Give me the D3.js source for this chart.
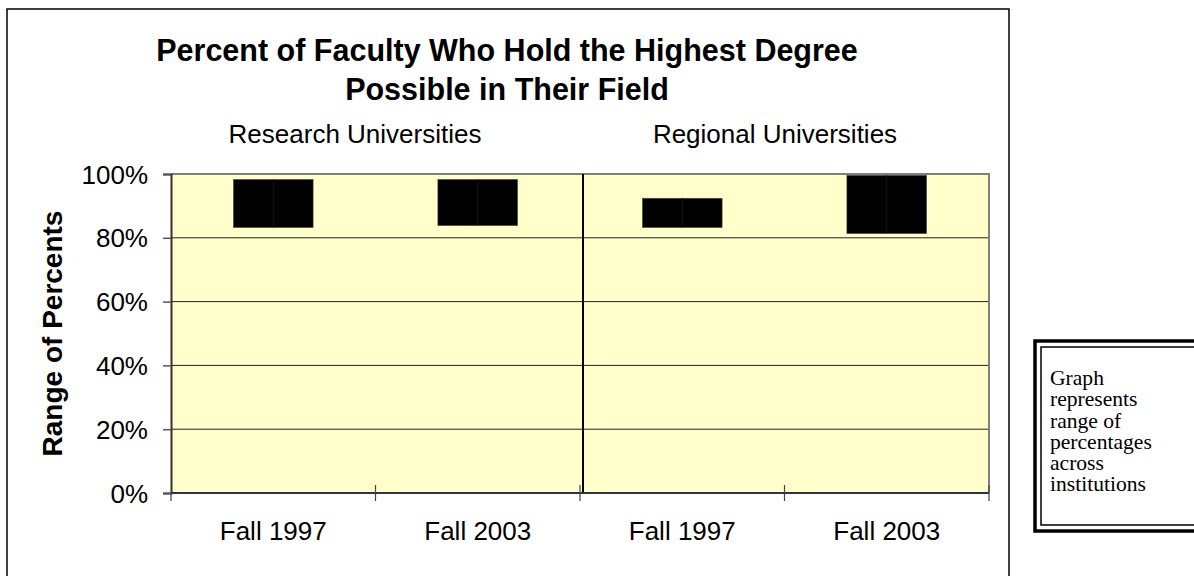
<!DOCTYPE html>
<meta charset="utf-8">
<style>
    body { margin: 0; background: #fff; }
    text { font-family: Arial, "Liberation Sans", sans-serif; fill: #000; }
</style>
<body>
    <div id="chart"></div>

    <script src="https://d3js.org/d3.v7.min.js"></script>

    <script>
        // chart values
        var groups = ['Research Universities', 'Regional Universities']
        var periods = ['Fall 1997', 'Fall 2003']
        var lows = [83.2, 83.8, 83.2, 81.3]   // bottom of each range bar (%)
        var highs = [98.3, 98.3, 92.4, 99.6]  // top of each range bar (%)
        var yTicks = [0, 20, 40, 60, 80, 100]
        var titleLines = ['Percent of Faculty Who Hold the Highest Degree', 'Possible in Their Field']
        var noteLines = ['Graph', 'represents', 'range of', 'percentages', 'across', 'institutions']

        // one row per bar
        var data = []
        groups.forEach(function (g, gi) {
            periods.forEach(function (p, pi) {
                var i = gi * periods.length + pi
                data.push({ key: g + '|' + p, group: g, period: p, low: lows[i], high: highs[i] })
            })
        })

        var W = 1194, H = 576
        var plot = { left: 171, right: 989, top: 174, bottom: 493 }

        var svg = d3.select('#chart')
            .append('svg')
            .attr('width', W)
            .attr('height', H)

        // outer chart frame (runs off the bottom of the picture)
        svg.append('rect')
            .attr('x', 7).attr('y', 9)
            .attr('width', 1002).attr('height', 600)
            .style('fill', 'none')
            .style('stroke', '#000')
            .style('stroke-width', 1.5)

        var x = d3.scaleBand()
            .domain(data.map(function (d) { return d.key }))
            .range([plot.left, plot.right])
            .paddingInner(0.61)
            .paddingOuter(0.305)

        var xTick = d3.scaleBand()
            .domain(data.map(function (d) { return d.key }))
            .range([plot.left, plot.right])

        var y = d3.scaleLinear()
            .domain([0, 100])
            .range([plot.bottom, plot.top])

        // plot background
        svg.append('rect')
            .attr('x', plot.left).attr('y', plot.top)
            .attr('width', plot.right - plot.left)
            .attr('height', plot.bottom - plot.top)
            .style('fill', '#ffffcc')

        // gridlines
        svg.append('g')
            .selectAll('line')
            .data(yTicks.filter(function (t) { return t > 0 && t < 100 }))
            .enter().append('line')
            .attr('x1', plot.left).attr('x2', plot.right)
            .attr('y1', function (d) { return y(d) }).attr('y2', function (d) { return y(d) })
            .style('stroke', '#222')
            .style('stroke-width', 1)

        // gray top and right edges of the plot
        svg.append('path')
            .attr('d', 'M' + plot.left + ',' + y(100) + 'H' + plot.right + 'V' + y(0))
            .style('fill', 'none')
            .style('stroke', '#808080')
            .style('stroke-width', 2)

        // divider between the two groups
        var divX = xTick(data[2].key) + 3
        svg.append('line')
            .attr('x1', divX).attr('x2', divX)
            .attr('y1', y(100)).attr('y2', y(0))
            .style('stroke', '#000')
            .style('stroke-width', 2)

        // range bars
        svg.append('g')
            .selectAll('rect')
            .data(data)
            .enter().append('rect')
            .attr('x', function (d) { return x(d.key) })
            .attr('width', x.bandwidth())
            .attr('y', function (d) { return y(d.high) })
            .attr('height', function (d) { return y(d.low) - y(d.high) })
            .style('fill', '#000')
            .style('stroke', '#555')
            .style('stroke-width', 0.6)

        // faint high-low line through the middle of each bar
        svg.append('g')
            .selectAll('line')
            .data(data)
            .enter().append('line')
            .attr('x1', function (d) { return x(d.key) + x.bandwidth() / 2 })
            .attr('x2', function (d) { return x(d.key) + x.bandwidth() / 2 })
            .attr('y1', function (d) { return y(d.high) })
            .attr('y2', function (d) { return y(d.low) })
            .style('stroke', '#141414')
            .style('stroke-width', 1)

        // y axis
        var gy = svg.append('g')
            .attr('transform', 'translate(' + plot.left + ',0)')
            .call(d3.axisLeft(y).tickValues(yTicks).tickSize(8).tickPadding(15)
                .tickFormat(function (d) { return d + '%' }))
        gy.select('.domain').style('stroke', '#333').style('stroke-width', 2)
        gy.selectAll('.tick line').style('stroke', '#555').style('stroke-width', 1.5)
        gy.selectAll('.tick text')
            .style('font-size', '26px')
            .style('font-family', 'Arial, "Liberation Sans", sans-serif')
            .style('fill', '#000')
            .attr('dy', '0.35em')

        // x axis with ticks at the category boundaries
        var gx = svg.append('g')
            .attr('transform', 'translate(0,' + plot.bottom + ')')
        gx.append('line')
            .attr('x1', plot.left).attr('x2', plot.right)
            .style('stroke', '#333')
            .style('stroke-width', 2)
        var bounds = data.map(function (d) { return xTick(d.key) }).concat([plot.right])
        gx.selectAll('.xt')
            .data(bounds)
            .enter().append('line')
            .attr('class', 'xt')
            .attr('x1', function (d) { return d }).attr('x2', function (d) { return d })
            .attr('y1', function (d, i) { return i === 0 ? 0 : -8 })
            .attr('y2', 8)
            .style('stroke', '#444')
            .style('stroke-width', 1.2)
        gx.selectAll('.xl')
            .data(data)
            .enter().append('text')
            .attr('class', 'xl')
            .attr('x', function (d) { return xTick(d.key) + xTick.bandwidth() / 2 })
            .attr('y', 47)
            .attr('text-anchor', 'middle')
            .style('font-size', '26px')
            .text(function (d) { return d.period })

        // group labels
        var groupCenters = [355, 775]
        svg.selectAll('.grp')
            .data(groups)
            .enter().append('text')
            .attr('class', 'grp')
            .attr('x', function (d, i) { return groupCenters[i] })
            .attr('y', 143)
            .attr('text-anchor', 'middle')
            .style('font-size', '26px')
            .text(function (d) { return d })

        // title
        svg.selectAll('.title')
            .data(titleLines)
            .enter().append('text')
            .attr('class', 'title')
            .attr('x', 507)
            .attr('y', function (d, i) { return 61 + i * 39 })
            .attr('text-anchor', 'middle')
            .style('font-size', '30.5px')
            .style('font-weight', 'bold')
            .text(function (d) { return d })

        // y axis title
        svg.append('text')
            .attr('transform', 'translate(62,' + (plot.top + plot.bottom) / 2 + ') rotate(-90)')
            .attr('text-anchor', 'middle')
            .style('font-size', '28px')
            .style('font-weight', 'bold')
            .text('Range of Percents')

        // note box with double border
        svg.append('rect')
            .attr('x', 1035).attr('y', 341)
            .attr('width', 200).attr('height', 190)
            .style('fill', '#fff')
            .style('stroke', '#000')
            .style('stroke-width', 3.5)
        svg.append('rect')
            .attr('x', 1041).attr('y', 347)
            .attr('width', 200).attr('height', 178)
            .style('fill', 'none')
            .style('stroke', '#000')
            .style('stroke-width', 1.5)
        svg.selectAll('.note')
            .data(noteLines)
            .enter().append('text')
            .attr('class', 'note')
            .attr('x', 1050)
            .attr('y', function (d, i) { return 385 + i * 21.3 })
            .style('font-family', '"Liberation Serif", "Times New Roman", serif')
            .style('font-size', '20px')
            .attr('transform', 'translate(-84,0) scale(1.08,1)')
            .text(function (d) { return d })
    </script>

</body>
